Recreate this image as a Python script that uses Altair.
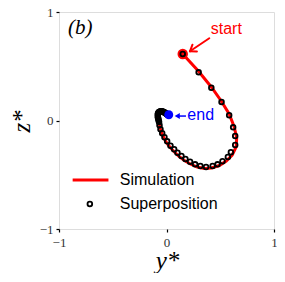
import altair as alt
import pandas as pd
import numpy as np

# Simulation trajectory (red line)
sim_y = [0.151, 0.296, 0.417, 0.509, 0.583, 0.630, 0.653, 0.648, 0.611, 0.556, 0.491,
         0.417, 0.352, 0.287, 0.222, 0.167, 0.111, 0.065, 0.023, -0.009, -0.037, -0.056,
         -0.069, -0.079, -0.079, -0.065, -0.037, -0.009, 0.021]
sim_z = [0.613, 0.456, 0.309, 0.180, 0.060, -0.060, -0.161, -0.244, -0.318, -0.373, -0.415,
         -0.438, -0.442, -0.429, -0.401, -0.369, -0.327, -0.281, -0.235, -0.189, -0.134, -0.078,
         -0.023, 0.032, 0.069, 0.092, 0.097, 0.083, 0.053]

# Superposition (open circles)
sup_y = [0.151, 0.299, 0.417, 0.512, 0.583, 0.620, 0.639, 0.639, 0.599, 0.571, 0.521,
         0.475, 0.429, 0.368, 0.315, 0.266, 0.219, 0.176, 0.139, 0.102, 0.071, 0.037,
         0.006, -0.019, -0.040, -0.056, -0.065, -0.069, -0.073, -0.076, -0.079, -0.081,
         -0.081, -0.079, -0.076, -0.073, -0.069, -0.064, -0.059, -0.054, -0.048, -0.043,
         -0.037, -0.032, -0.026, -0.021, -0.016, -0.011, -0.006, -0.002, 0.002, 0.006, 0.009]
sup_z = [0.613, 0.444, 0.302, 0.171, 0.048, -0.063, -0.143, -0.226, -0.293, -0.336, -0.376,
         -0.404, -0.419, -0.429, -0.419, -0.404, -0.380, -0.355, -0.327, -0.297, -0.265, -0.232,
         -0.192, -0.155, -0.118, -0.081, -0.044, -0.014, 0.000, 0.014, 0.026, 0.037,
         0.055, 0.062, 0.069, 0.074, 0.078, 0.081, 0.083, 0.084, 0.085, 0.084,
         0.083, 0.081, 0.078, 0.075, 0.072, 0.069, 0.066, 0.063, 0.060, 0.057, 0.053]

start_pt = (0.151, 0.613)
end_pt = (0.021, 0.053)

RED = "#ff0000"
BLUE = "#0000ff"

sim_df = pd.DataFrame({"y": sim_y, "z": sim_z, "o": range(len(sim_y))})
sup_df = pd.DataFrame({"y": sup_y, "z": sup_z})

xs = alt.Scale(domain=[-1, 1], nice=False, zero=False)
ys = alt.Scale(domain=[-1, 1], nice=False, zero=False)

lab_expr = "datum.value < 0 ? '\u2212' + format(-datum.value, 'd') : format(datum.value, 'd')"

x_axis = alt.Axis(values=[-1, 0, 1], labelExpr=lab_expr, grid=False, domain=False,
                  tickSize=3, tickColor="black", tickWidth=1.2, labelFlush=False,
                  labelFont="Liberation Serif", labelFontSize=13, labelColor="#333",
                  labelPadding=4, title="y*", titleFont="Liberation Serif",
                  titleFontStyle="italic", titleFontWeight="normal", titleFontSize=25,
                  titleX=108, titleY=39, titleAlign="center", titleBaseline="alphabetic",
                  titleColor="black")
y_axis = alt.Axis(values=[-1, 0, 1], labelExpr=lab_expr, grid=False, domain=False,
                  tickSize=3, tickColor="black", tickWidth=1.2, labelFlush=False,
                  labelFont="Liberation Serif", labelFontSize=13, labelColor="#333",
                  labelPadding=3, title="z*", titleFont="Liberation Serif",
                  titleFontStyle="italic", titleFontWeight="normal", titleFontSize=25,
                  titleX=-30, titleY=109, titleAngle=270, titleAlign="center",
                  titleBaseline="alphabetic", titleColor="black")

X = alt.X("y:Q", scale=xs, axis=x_axis)
Y = alt.Y("z:Q", scale=ys, axis=y_axis)

line = alt.Chart(sim_df).mark_line(color=RED, strokeWidth=3).encode(x=X, y=Y, order="o:Q")

start_df = pd.DataFrame({"y": [start_pt[0]], "z": [start_pt[1]]})
start_dot = alt.Chart(start_df).mark_circle(color=RED, size=110, opacity=1).encode(x=X, y=Y)

circles = alt.Chart(sup_df).mark_point(shape="circle", filled=False, color="black",
                                       size=22, strokeWidth=1.8, opacity=1).encode(x=X, y=Y)

end_df = pd.DataFrame({"y": [end_pt[0]], "z": [end_pt[1]]})
end_dot = alt.Chart(end_df).mark_circle(color=BLUE, size=80, opacity=1).encode(x=X, y=Y)

# start arrow (open head)
tail = np.array([0.398, 0.758])
tip = np.array([0.218, 0.638])
u = (tip - tail) / np.linalg.norm(tip - tail)
b = -u
hl = 0.065
ang = np.deg2rad(35)
rot = lambda v, a: np.array([v[0] * np.cos(a) - v[1] * np.sin(a), v[0] * np.sin(a) + v[1] * np.cos(a)])
w1 = tip + hl * rot(b, ang)
w2 = tip + hl * rot(b, -ang)
seg_df = pd.DataFrame({
    "y": [tail[0], tip[0], tip[0]],
    "z": [tail[1], tip[1], tip[1]],
    "y2": [tip[0], w1[0], w2[0]],
    "z2": [tip[1], w1[1], w2[1]],
})
start_arrow = alt.Chart(seg_df).mark_rule(color=RED, strokeWidth=2, strokeCap="round").encode(
    x=X, y=Y, x2="y2:Q", y2="z2:Q")

# end arrow (filled head)
end_seg = pd.DataFrame({"y": [0.181], "z": [0.041], "y2": [0.105], "z2": [0.041]})
end_shaft = alt.Chart(end_seg).mark_rule(color=BLUE, strokeWidth=1.5).encode(
    x=X, y=Y, x2="y2:Q", y2="z2:Q")
end_head = alt.Chart(pd.DataFrame({"y": [0.100], "z": [0.041]})).mark_point(
    shape="triangle-left", filled=True, color=BLUE, size=35, opacity=1).encode(x=X, y=Y)

txt_start = alt.Chart(pd.DataFrame({"y": [0.556], "z": [0.797], "t": ["start"]})).mark_text(
    font="Liberation Sans", fontSize=16, color=RED, align="center", baseline="alphabetic").encode(
    x=X, y=Y, text="t:N")
txt_end = alt.Chart(pd.DataFrame({"y": [0.194], "z": [0.009], "t": ["end"]})).mark_text(
    font="Liberation Sans", fontSize=16, color=BLUE, align="left", baseline="alphabetic").encode(
    x=X, y=Y, text="t:N")
txt_b = alt.Chart(pd.DataFrame({"y": [-0.917], "z": [0.797], "t": ["(b)"]})).mark_text(
    font="Liberation Serif", fontSize=21, fontStyle="italic", color="black", align="left",
    baseline="alphabetic").encode(x=X, y=Y, text="t:N")

# legend
leg_line = alt.Chart(pd.DataFrame({"y": [-0.873], "z": [-0.548], "y2": [-0.540]})).mark_rule(
    color=RED, strokeWidth=3).encode(x=X, y=Y, x2="y2:Q")
leg_pt = alt.Chart(pd.DataFrame({"y": [-0.713], "z": [-0.770]})).mark_point(
    shape="circle", filled=False, color="black", size=22, strokeWidth=1.8, opacity=1).encode(x=X, y=Y)
leg_txt = alt.Chart(pd.DataFrame({"y": [-0.435, -0.435], "z": [-0.594, -0.816],
                                  "t": ["Simulation", "Superposition"]})).mark_text(
    font="Liberation Sans", fontSize=16, color="black", align="left", baseline="alphabetic").encode(
    x=X, y=Y, text="t:N")

chart = alt.layer(line, start_dot, circles, end_dot, start_arrow, end_shaft, end_head,
                  txt_start, txt_end, txt_b, leg_line, leg_pt, leg_txt).properties(
    width=215, height=217,
    autosize=alt.AutoSizeParams(type="none"),
    padding={"left": 51, "top": 4, "right": 3, "bottom": 44},
).configure_view(stroke="black", strokeWidth=1.8).configure(background="white")

chart.save("out.html", embed_options={"renderer": "svg", "actions": False})
